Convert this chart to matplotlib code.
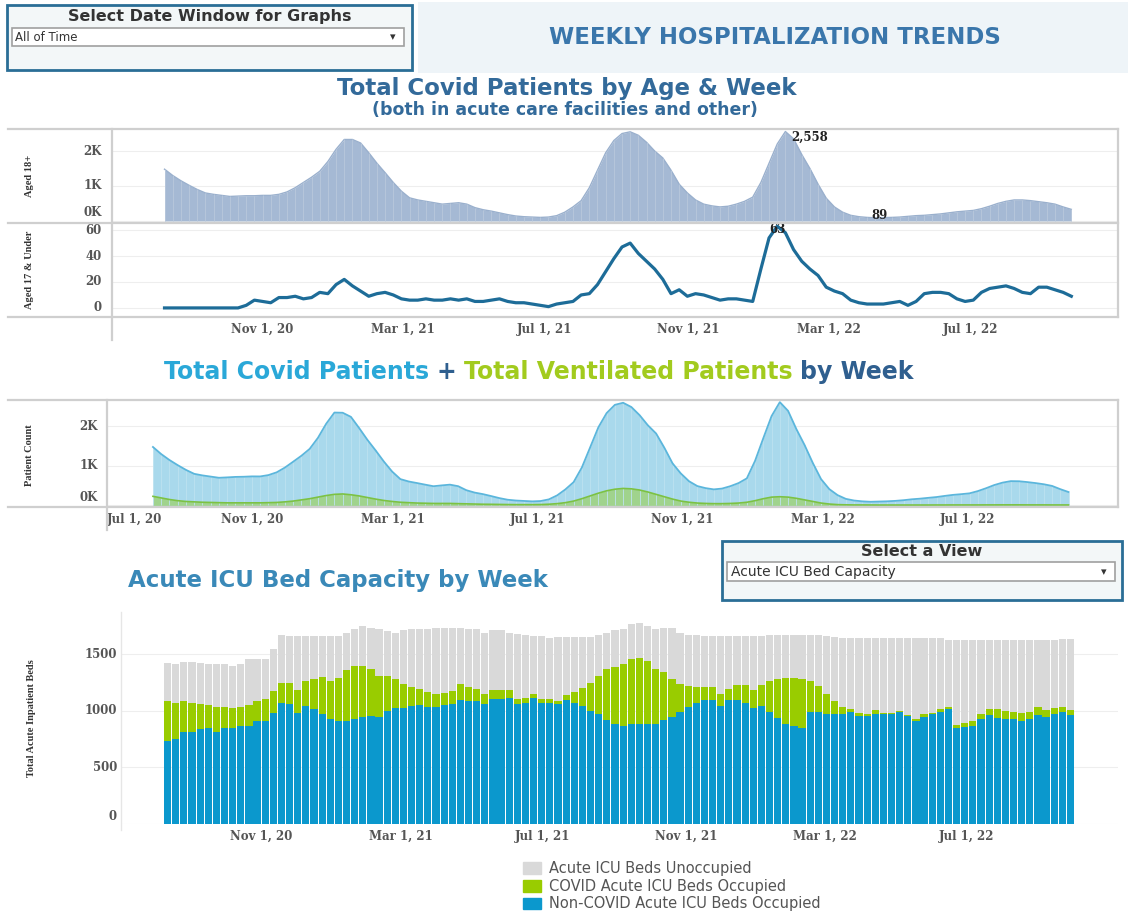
import matplotlib
matplotlib.use('Agg')
import matplotlib.pyplot as plt
import numpy as np
import pandas as pd
from matplotlib.patches import Rectangle, Patch
from matplotlib.lines import Line2D

# weekly data, Aug 9 2020 .. Sep 25 2022
weeks = pd.date_range('2020-08-09', periods=112, freq='7D')

aged_18_plus = [1480, 1300, 1150, 1020, 900, 800, 760, 730, 700, 710,
                720, 720, 730, 730, 760, 830, 950, 1100, 1250, 1420,
                1700, 2050, 2330, 2330, 2230, 1950, 1650, 1380, 1100, 850,
                660, 600, 560, 520, 480, 500, 520, 480, 380, 320,
                280, 230, 180, 140, 120, 110, 100, 110, 150, 250,
                400, 580, 950, 1450, 1950, 2300, 2500, 2550, 2450, 2250,
                2000, 1800, 1450, 1050, 800, 600, 480, 430, 400, 420,
                480, 560, 680, 1100, 1650, 2200, 2558, 2350, 1900, 1500,
                1050, 650, 400, 250, 160, 120, 100, 89, 95, 100,
                110, 130, 150, 160, 180, 200, 230, 260, 280, 300,
                350, 420, 500, 560, 600, 600, 580, 550, 520, 480,
                400, 330]

aged_17_under = [0, 0, 0, 0, 0, 0, 0, 0, 0, 0,
                 2, 6, 5, 4, 8, 8, 9, 7, 8, 12,
                 11, 18, 22, 17, 13, 9, 11, 12, 10, 7,
                 6, 6, 7, 6, 6, 7, 6, 7, 5, 5,
                 6, 7, 5, 4, 4, 3, 2, 1, 3, 4,
                 5, 10, 11, 18, 28, 38, 47, 50, 42, 36,
                 30, 22, 11, 14, 9, 11, 10, 8, 6, 7,
                 7, 6, 5, 30, 54, 63, 58, 45, 36, 30,
                 25, 16, 13, 11, 6, 4, 3, 3, 3, 4,
                 5, 2, 5, 11, 12, 12, 11, 7, 5, 6,
                 12, 15, 16, 17, 15, 12, 11, 16, 16, 14,
                 12, 9]

total_covid = [1480, 1300, 1150, 1020, 900, 800, 760, 730, 700, 710,
               722, 726, 735, 734, 768, 838, 959, 1107, 1258, 1432,
               1711, 2068, 2352, 2347, 2243, 1959, 1661, 1392, 1110, 857,
               666, 606, 567, 526, 486, 507, 526, 487, 385, 325,
               286, 237, 185, 144, 124, 113, 102, 111, 153, 254,
               405, 590, 961, 1468, 1978, 2338, 2547, 2600, 2492, 2286,
               2030, 1822, 1461, 1064, 809, 611, 490, 438, 406, 427,
               487, 566, 685, 1130, 1704, 2263, 2616, 2395, 1936, 1530,
               1075, 666, 413, 261, 166, 124, 103, 92, 98, 104,
               115, 132, 155, 171, 192, 212, 241, 267, 285, 306,
               362, 435, 516, 577, 615, 612, 591, 566, 536, 494,
               412, 339]

total_ventilated = [230, 190, 150, 120, 100, 90, 80, 75, 70, 65,
                    65, 65, 65, 65, 70, 75, 90, 110, 140, 170,
                    210, 250, 280, 290, 270, 240, 200, 160, 125, 100,
                    80, 70, 60, 55, 50, 50, 50, 45, 40, 35,
                    30, 28, 25, 22, 20, 20, 20, 22, 30, 45,
                    70, 110, 170, 240, 310, 370, 410, 430, 420, 390,
                    340, 280, 220, 160, 110, 80, 60, 50, 45, 45,
                    50, 60, 80, 120, 170, 210, 220, 210, 180, 140,
                    100, 60, 35, 20, 15, 12, 12, 11, 10, 10,
                    10, 10, 10, 10, 10, 11, 11, 12, 12, 12,
                    12, 13, 13, 14, 14, 14, 13, 13, 13, 12,
                    12, 12]

icu_non_covid = [735, 756, 815, 815, 838, 847, 815, 853, 853, 868,
                 868, 912, 912, 979, 1074, 1059, 985, 1044, 1015, 976,
                 932, 912, 912, 926, 947, 956, 947, 1000, 1024, 1024,
                 1044, 1053, 1035, 1035, 1053, 1059, 1097, 1088, 1088, 1059,
                 1109, 1109, 1118, 1059, 1074, 1118, 1074, 1074, 1059, 1097,
                 1074, 1044, 1000, 971, 921, 882, 868, 882, 882, 882,
                 882, 921, 947, 991, 1035, 1074, 1094, 1094, 1044, 1094,
                 1094, 1074, 1029, 1044, 991, 941, 882, 868, 853, 991,
                 991, 976, 976, 976, 991, 956, 956, 976, 976, 976,
                 994, 956, 912, 947, 971, 994, 1015, 847, 859, 868,
                 926, 962, 941, 926, 926, 912, 926, 965, 947, 971,
                 991, 965]

icu_covid = [353, 318, 273, 259, 221, 206, 220, 182, 171, 167,
             185, 176, 191, 197, 176, 191, 197, 221, 264, 324,
             333, 382, 450, 471, 450, 418, 362, 309, 255, 211,
             168, 138, 133, 112, 109, 117, 138, 124, 103, 88,
             73, 73, 64, 44, 44, 29, 29, 29, 29, 44,
             97, 156, 250, 338, 453, 506, 544, 574, 589, 559,
             492, 423, 332, 250, 186, 138, 118, 118, 103, 97,
             135, 155, 153, 185, 274, 338, 412, 426, 426, 274,
             230, 171, 112, 59, 30, 29, 15, 30, 9, 5,
             6, 6, 14, 24, 14, 21, 20, 29, 32, 44,
             45, 59, 80, 74, 65, 73, 68, 70, 59, 53,
             44, 41]

icu_total_beds = [1426, 1418, 1432, 1432, 1426, 1418, 1412, 1418, 1397, 1412,
                  1456, 1456, 1456, 1544, 1676, 1662, 1662, 1662, 1662, 1662,
                  1662, 1662, 1691, 1721, 1750, 1735, 1721, 1706, 1691, 1712,
                  1721, 1721, 1721, 1735, 1735, 1735, 1735, 1729, 1721, 1691,
                  1712, 1712, 1691, 1682, 1671, 1662, 1662, 1647, 1653, 1653,
                  1653, 1653, 1653, 1676, 1691, 1712, 1729, 1765, 1779, 1750,
                  1721, 1735, 1735, 1691, 1676, 1668, 1662, 1662, 1660, 1660,
                  1660, 1660, 1660, 1660, 1668, 1676, 1676, 1676, 1676, 1672,
                  1668, 1662, 1650, 1645, 1641, 1641, 1641, 1641, 1641, 1641,
                  1641, 1641, 1641, 1641, 1641, 1641, 1624, 1624, 1624, 1624,
                  1624, 1624, 1624, 1624, 1624, 1624, 1624, 1624, 1624, 1630,
                  1635, 1635]

tick_dates = pd.to_datetime(['2020-11-01', '2021-03-01', '2021-07-01',
                             '2021-11-01', '2022-03-01', '2022-07-01'])
tick_labels = ['Nov 1, 20', 'Mar 1, 21', 'Jul 1, 21',
               'Nov 1, 21', 'Mar 1, 22', 'Jul 1, 22']

legend_labels = ['Acute ICU Beds Unoccupied', 'COVID Acute ICU Beds Occupied',
                 'Non-COVID Acute ICU Beds Occupied']

# colours
C_AREA18 = '#a5b9d4'
C_LINE17 = '#1d6c98'
C_TOTAL = '#a9d9ec'
C_TOTAL_EDGE = '#5bb6dc'
C_VENT = '#9fd27c'
C_VENT_EDGE = '#7cc242'
C_NONCOV = '#0b98cd'
C_COV = '#99cc00'
C_UNOCC = '#d9d9d9'
C_TITLE = '#336a9a'
C_FRAME = '#cfcfcf'

W, H = 1131, 917
fig = plt.figure(figsize=(W / 100, H / 100), dpi=100)


def fx(x):
    return x / W


def fy(y):
    return 1 - y / H


def add_ax(x0, y0, x1, y1):
    return fig.add_axes([fx(x0), fy(y1), (x1 - x0) / W, (y1 - y0) / H])


def hline(x0, x1, y, color=C_FRAME, lw=1.6):
    fig.add_artist(Line2D([fx(x0), fx(x1)], [fy(y), fy(y)], color=color, lw=lw))


def vline(x, y0, y1, color=C_FRAME, lw=1.6):
    fig.add_artist(Line2D([fx(x), fx(x)], [fy(y0), fy(y1)], color=color, lw=lw))


def box(x0, y0, x1, y1, **kw):
    fig.add_artist(Rectangle((fx(x0), fy(y1)), (x1 - x0) / W, (y1 - y0) / H,
                             transform=fig.transFigure, **kw))


tick_font = dict(fontsize=8.5, fontfamily='DejaVu Serif', fontweight='bold', color='#555555')
note_font = dict(fontsize=8.5, fontfamily='DejaVu Serif', fontweight='bold', color='#222222')


def style(ax):
    for s in ax.spines.values():
        s.set_visible(False)
    ax.tick_params(length=0)
    ax.set_yticks([])


def ylabels(ax, vals, labels, pad_px, zero_bump=8):
    for v, lab in zip(vals, labels):
        ax.axhline(v, color='#eeeeee', lw=0.8, zorder=0)
        dy = zero_bump if v == 0 else 0
        ax.annotate(lab, xy=(0, v), xycoords=('axes fraction', 'data'),
                    xytext=(-pad_px * 0.72, dy * 0.72), textcoords='offset points',
                    ha='right', va='center', **tick_font)


def xlabels(ax, dates, labels):
    ax.set_xticks(dates)
    ax.set_xticklabels(labels, **tick_font)
    ax.tick_params(axis='x', pad=4)


def side_label(x, y, text):
    fig.text(fx(x), fy(y), text, rotation=90, ha='center', va='center',
             fontsize=7.5, fontfamily='Liberation Serif', fontweight='bold', color='#333333')


# ---------------- header ----------------
box(7, 5, 412, 70, facecolor='#f3f7f8', edgecolor='#2a6e96', lw=2)
fig.text(fx(210), fy(17), 'Select Date Window for Graphs', ha='center', va='center',
         fontsize=11.5, fontweight='semibold', fontfamily='DejaVu Sans', color='#333333')
box(12, 28, 404, 46, facecolor='white', edgecolor='#a0a0a0', lw=1.2)
fig.text(fx(15), fy(37.5), 'All of Time', ha='left', va='center', fontsize=8.5, color='#333333')
fig.text(fx(393), fy(37), '▾', ha='center', va='center', fontsize=8, color='#333333')

box(418, 2, 1128, 73, facecolor='#eef4f8', edgecolor='none')
fig.text(fx(775), fy(38), 'WEEKLY HOSPITALIZATION TRENDS', ha='center', va='center',
         fontsize=16.5, fontweight='bold', fontfamily='DejaVu Sans', color='#3a76ab')

fig.text(fx(567), fy(88), 'Total Covid Patients by Age & Week', ha='center', va='center',
         fontsize=16.5, fontweight='bold', fontfamily='DejaVu Sans', color=C_TITLE)
fig.text(fx(565), fy(110), '(both in acute care facilities and other)', ha='center', va='center',
         fontsize=12.5, fontweight='bold', fontfamily='DejaVu Sans', color=C_TITLE)

# ---------------- panel 1 ----------------
p1_xlim = (pd.Timestamp('2020-06-25'), pd.Timestamp('2022-11-04'))

ax1 = add_ax(112, 129, 1118, 223)
style(ax1)
ax1.fill_between(weeks, aged_18_plus, color=C_AREA18, lw=0)
ax1.plot(weeks, aged_18_plus, color='#9ab0cd', lw=1)
ax1.vlines(weeks, 0, aged_18_plus, color='#b9c8dc', lw=0.6)
ax1.set_xlim(p1_xlim)
ax1.set_ylim(-60, 2630)
ax1.set_xticks([])
ylabels(ax1, [0, 1000, 2000], ['0K', '1K', '2K'], 10)
imax = int(np.argmax(aged_18_plus))
ax1.annotate(f'{aged_18_plus[imax]:,}', (weeks[imax], aged_18_plus[imax]), xytext=(4, -4),
             textcoords='offset points', ha='left', va='center', **note_font)
imin = int(np.argmin(aged_18_plus))
ax1.annotate(f'{aged_18_plus[imin]}', (weeks[imin], aged_18_plus[imin]), xytext=(-3, 2),
             textcoords='offset points', ha='left', va='center', **note_font)

ax2 = add_ax(112, 223, 1118, 317)
style(ax2)
ax2.plot(weeks, aged_17_under, color=C_LINE17, lw=2.3)
ax2.set_xlim(p1_xlim)
ax2.set_ylim(-7, 65.5)
ylabels(ax2, [0, 20, 40, 60], ['0', '20', '40', '60'], 10, zero_bump=0)
xlabels(ax2, tick_dates, tick_labels)
jmax = int(np.argmax(aged_17_under))
ax2.annotate(f'{aged_17_under[jmax]}', (weeks[jmax], aged_17_under[jmax]), xytext=(0, -2),
             textcoords='offset points', ha='center', va='center', **note_font)

hline(8, 1118, 129)
hline(8, 1118, 223)
hline(8, 1118, 317)
vline(112, 129, 340)
vline(1118, 129, 317)
side_label(30, 176, 'Aged 18+')
side_label(30, 270, 'Aged 17 & Under')

# ---------------- panel 2 ----------------
bg = fig.add_axes([0, 0, 1, 1])
bg.axis('off')
bg.set_zorder(-1)
segs = [('Total Covid Patients', '#2aa8d8'), ('+', '#2f5f8f'),
        ('Total Ventilated Patients', '#a2cb1e'), ('by Week', '#2f5f8f')]
prev = bg.text(fx(164), fy(372), segs[0][0], color=segs[0][1], fontsize=17,
               fontweight='bold', fontfamily='DejaVu Sans', ha='left', va='center')
for s, c in segs[1:]:
    prev = bg.annotate(s, xy=(1, 0), xycoords=prev, xytext=(5.5, 0), textcoords='offset points',
                       ha='left', va='bottom', color=c, fontsize=17, fontweight='bold',
                       fontfamily='DejaVu Sans')

p2_xlim = (pd.Timestamp('2020-07-01'), pd.Timestamp('2022-11-06'))
ax3 = add_ax(107, 400, 1118, 507)
style(ax3)
ax3.fill_between(weeks, total_covid, color=C_TOTAL, lw=0)
ax3.vlines(weeks, 0, total_covid, color='#bde2f0', lw=0.6)
ax3.plot(weeks, total_covid, color=C_TOTAL_EDGE, lw=1.3)
ax3.fill_between(weeks, total_ventilated, color=C_VENT, lw=0, alpha=0.85)
ax3.plot(weeks, total_ventilated, color=C_VENT_EDGE, lw=1.2)
ax3.set_xlim(p2_xlim)
ax3.set_ylim(-40, 2670)
ylabels(ax3, [0, 1000, 2000], ['0K', '1K', '2K'], 9)
xlabels(ax3, [pd.Timestamp('2020-07-01')] + list(tick_dates), ['Jul 1, 20'] + tick_labels)
ax3.get_xticklabels()[0].set_ha('left')

hline(8, 1118, 400)
hline(8, 1118, 507)
vline(107, 400, 530)
vline(1118, 400, 507)
side_label(30, 455, 'Patient Count')

# ---------------- panel 3 ----------------
fig.text(fx(128), fy(580), 'Acute ICU Bed Capacity by Week', ha='left', va='center',
         fontsize=16.5, fontweight='bold', fontfamily='DejaVu Sans', color='#3a89b8')

box(722, 541, 1122, 600, facecolor='#f3f7f8', edgecolor='#2a6e96', lw=2)
fig.text(fx(922), fy(552), 'Select a View', ha='center', va='center',
         fontsize=11.5, fontweight='bold', fontfamily='DejaVu Sans', color='#333333')
box(727, 562, 1115, 581, facecolor='white', edgecolor='#a0a0a0', lw=1.2)
fig.text(fx(731), fy(572), 'Acute ICU Bed Capacity', ha='left', va='center', fontsize=10,
         color='#333333')
fig.text(fx(1104), fy(572), '▾', ha='center', va='center', fontsize=8, color='#333333')

p3_xlim = (pd.Timestamp('2020-07-03'), pd.Timestamp('2022-11-08'))
ax4 = add_ax(121, 612, 1118, 824)
style(ax4)
non_cov = np.array(icu_non_covid)
cov = np.array(icu_covid)
unocc = np.array(icu_total_beds) - non_cov - cov
bw = pd.Timedelta(days=6.2)
ax4.bar(weeks, non_cov, width=bw, align='edge', color=C_NONCOV, lw=0)
ax4.bar(weeks, cov, width=bw, align='edge', bottom=non_cov, color=C_COV, lw=0)
ax4.bar(weeks, unocc, width=bw, align='edge', bottom=non_cov + cov, color=C_UNOCC, lw=0)
ax4.set_xlim(p3_xlim)
ax4.set_ylim(0, 1875)
ylabels(ax4, [0, 500, 1000, 1500], ['0', '500', '1000', '1500'], 4)
xlabels(ax4, tick_dates, tick_labels)
vline(121, 612, 830, color='#e6e6e6', lw=1)
side_label(32, 718, 'Total Acute Inpatient Beds')

handles = [Patch(color=C_UNOCC), Patch(color=C_COV), Patch(color=C_NONCOV)]
fig.legend(handles, legend_labels, loc='upper left', bbox_to_anchor=(fx(510), fy(848)),
           frameon=False, fontsize=10.5, handlelength=1.2, handleheight=0.85,
           labelspacing=0.18, handletextpad=0.55, labelcolor='#555555')

fig.savefig('out.png', dpi=100)
